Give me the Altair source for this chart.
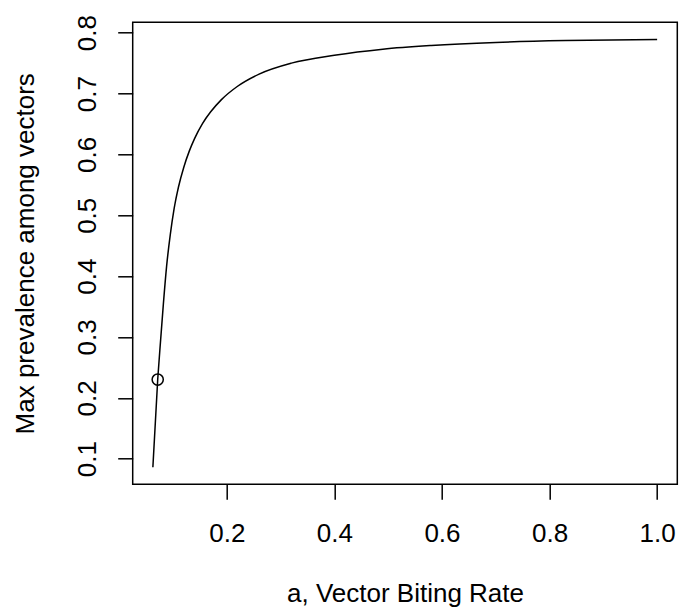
import altair as alt
import pandas as pd

# Curve values
a_vals = [0.0625, 0.0715, 0.077, 0.082, 0.088, 0.095, 0.102, 0.11, 0.12, 0.13, 0.14,
          0.155, 0.17, 0.19, 0.22, 0.26, 0.32, 0.40, 0.49, 0.58, 0.70, 0.83, 1.0]
prev_vals = [0.086, 0.23, 0.296, 0.354, 0.416, 0.469, 0.511, 0.546, 0.579, 0.605, 0.626,
             0.651, 0.670, 0.690, 0.712, 0.732, 0.750, 0.763, 0.773, 0.779, 0.784, 0.787, 0.789]

# Highlighted point
pt_a = [0.0715]
pt_prev = [0.23]

x_ticks = [0.2, 0.4, 0.6, 0.8, 1.0]
y_ticks = [0.1, 0.2, 0.3, 0.4, 0.5, 0.6, 0.7, 0.8]

curve = pd.DataFrame({"a": a_vals, "prev": prev_vals})
point = pd.DataFrame({"a": pt_a, "prev": pt_prev})

FONT = "Liberation Sans"
FS = 26

xs = alt.Scale(domain=[0.025, 1.0375], nice=False, zero=False)
ys = alt.Scale(domain=[0.0579, 0.8171], nice=False, zero=False)

x_axis = alt.Axis(values=x_ticks, format=".1f", title="a, Vector Biting Rate",
                  grid=False, domain=False, tickSize=15, tickWidth=1.5, tickColor="black",
                  labelFont=FONT, labelFontSize=FS, labelColor="black",
                  labelBaseline="alphabetic", labelPadding=42.4,
                  titleFont=FONT, titleFontSize=FS, titleColor="black",
                  titleFontWeight="normal", titleBaseline="alphabetic", titleY=117.5)
y_axis = alt.Axis(values=y_ticks, format=".1f", title="Max prevalence among vectors",
                  grid=False, domain=False, tickSize=15, tickWidth=1.5, tickColor="black",
                  labelFont=FONT, labelFontSize=FS, labelColor="black",
                  labelAngle=270, labelAlign="center", labelBaseline="alphabetic",
                  labelPadding=22.2,
                  titleFont=FONT, titleFontSize=FS, titleColor="black",
                  titleFontWeight="normal", titleAngle=270, titleAlign="center",
                  titleBaseline="alphabetic", titleX=-99.4, titleY=231)

line = alt.Chart(curve).mark_line(color="black", strokeWidth=1.5, interpolate="monotone").encode(
    x=alt.X("a:Q", scale=xs, axis=x_axis),
    y=alt.Y("prev:Q", scale=ys, axis=y_axis),
)
pt = alt.Chart(point).mark_point(shape="circle", filled=False, color="black",
                                 size=125, strokeWidth=1.5, opacity=1).encode(
    x=alt.X("a:Q", scale=xs),
    y=alt.Y("prev:Q", scale=ys),
)

chart = (line + pt).properties(
    width=544.6, height=462,
    autosize=alt.AutoSizeParams(type="none"),
    padding={"left": 132.7, "top": 22.3, "right": 1.7, "bottom": 124.7},
    background="white",
).configure_view(stroke="black", strokeWidth=1.5)

chart.save("out.html", embed_options={"renderer": "svg", "actions": False})
